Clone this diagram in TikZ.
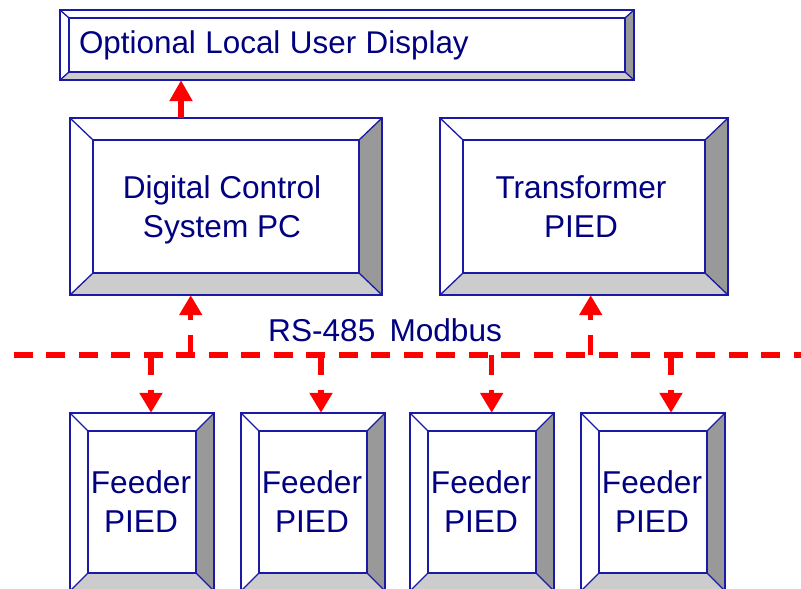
\documentclass[tikz,border=0pt]{standalone}
\usepackage{fontspec}
\setmainfont{Liberation Sans}
\usetikzlibrary{arrows.meta}
\definecolor{edgeblue}{HTML}{1A1AA6}
\definecolor{txtnavy}{HTML}{000080}
\definecolor{darkbev}{HTML}{999999}
\definecolor{lightbev}{HTML}{CCCCCC}
\definecolor{busred}{HTML}{FF0000}
\tikzset{
  boxline/.style={draw=edgeblue, line width=1.3pt},
  lbl/.style={text=txtnavy, font=\fontsize{31.6}{39}\selectfont, align=center},
  conn/.style={draw=busred, line width=5.5pt, dash pattern=on 20pt off 15pt, -{Triangle[length=20pt,width=22pt]}},
  solidconn/.style={draw=busred, line width=5.5pt, -{Triangle[length=21pt,width=22pt]}},
  bus/.style={draw=busred, line width=5.5pt, dash pattern=on 19pt off 13.5pt},
}
% #1 name, #2 x1, #3 y1, #4 x2, #5 y2, #6 bevel x, #7 bevel y, #8 node options, #9 text
\newcommand\bevbox[9]{%
  \fill[white] (#2,#3) rectangle (#4,#5);
  \fill[darkbev] (#4,#3) -- ({#4-#6},{#3+#7}) -- ({#4-#6},{#5-#7}) -- (#4,#5) -- cycle;
  \fill[lightbev] (#2,#5) -- ({#2+#6},{#5-#7}) -- ({#4-#6},{#5-#7}) -- (#4,#5) -- cycle;
  \draw[boxline] (#2,#3) rectangle (#4,#5);
  \draw[boxline] ({#2+#6},{#3+#7}) rectangle ({#4-#6},{#5-#7});
  \draw[boxline] (#2,#3) -- ({#2+#6},{#3+#7}) (#4,#3) -- ({#4-#6},{#3+#7})
                 (#2,#5) -- ({#2+#6},{#5-#7}) (#4,#5) -- ({#4-#6},{#5-#7});
  \node[minimum width={#4-#2}, minimum height={#5-#3}, inner sep=0pt] (#1) at ({(#2+#4)/2},{(#3+#5)/2}) {};
  \node[lbl, inner sep=0pt, #8] (#1txt) at (#1.center) {#9};
}
\begin{document}
\begin{tikzpicture}[x=1pt, y=-1pt]
\useasboundingbox (0,0) rectangle (801,589);
% boxes
\bevbox{disp}{60}{10}{634}{80}{9}{8}{text width=536pt, align=left, yshift=-0.3pt, font=\fontsize{31.4}{39}\selectfont}{\spaceskip=9.5pt Optional Local User Display}
\bevbox{dcs}{70}{118}{382}{295}{23}{22}{xshift=-4pt, yshift=-3.7pt}{Digital Control\\System PC}
\bevbox{tr}{440}{118}{728}{295}{23}{22}{xshift=-3pt}{Transformer\\PIED}
\bevbox{fa}{70}{413}{214}{591}{18}{18}{xshift=-1pt}{Feeder\\PIED}
\bevbox{fb}{241}{413}{385}{591}{18}{18}{xshift=-1pt}{Feeder\\PIED}
\bevbox{fc}{410}{413}{554}{591}{18}{18}{xshift=-1pt}{Feeder\\PIED}
\bevbox{fd}{581}{413}{725}{591}{18}{18}{xshift=-1pt}{Feeder\\PIED}
% bus
\coordinate (busL) at (13.6,355);
\coordinate (busR) at (801,355);
\draw[bus] (busL) -- (busR);
\node[lbl, anchor=base west, inner sep=0pt] (buslbl) at (268,341) {RS-485\hspace{0.45em}Modbus};
% junctions on bus
\coordinate (j0) at (190.7,355);
\coordinate (j5) at (590.7,355);
\coordinate (j1) at (151,355);
\coordinate (j2) at (321,355);
\coordinate (j3) at (491.7,355);
\coordinate (j4) at (671,355);
% connectors
\draw[conn] (j0) -- (j0 |- dcs.south);
\draw[conn] (j5) -- (j5 |- tr.south);
\draw[conn] (j1) -- (j1 |- fa.north);
\draw[conn] (j2) -- (j2 |- fb.north);
\draw[conn] (j3) -- (j3 |- fc.north);
\draw[conn] (j4) -- (j4 |- fd.north);
\draw[solidconn] ([xshift=-45pt]dcs.north) -- ([xshift=-45pt]dcs.north |- disp.south);
\end{tikzpicture}
\end{document}
